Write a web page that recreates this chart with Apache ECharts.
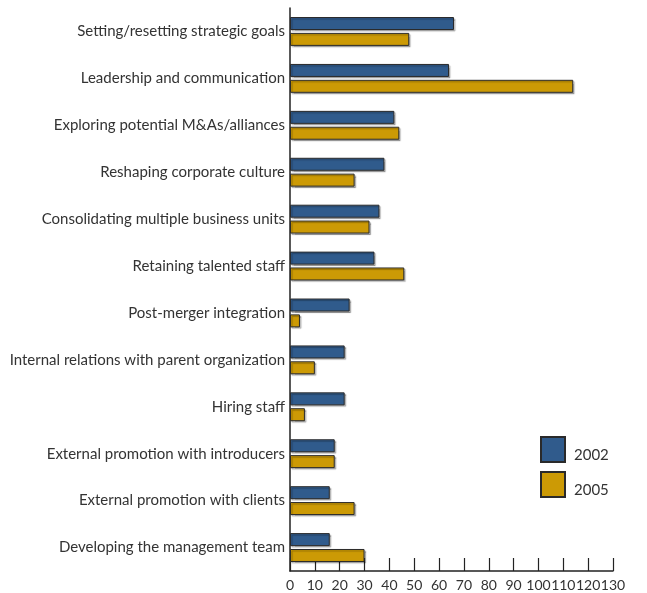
<!DOCTYPE html>
<html>
<head>
<meta charset="utf-8">
<script src="https://cdn.jsdelivr.net/npm/echarts@6/dist/echarts.min.js"></script>
<style>
  html, body { margin: 0; padding: 0; background: #fff; }
  #chart { width: 647px; height: 593px; }
</style>
</head>
<body>
<div id="chart"></div>
<script>
// Activities, listed top to bottom
const categories = [
  'Setting/resetting strategic goals',
  'Leadership and communication',
  'Exploring potential M&As/alliances',
  'Reshaping corporate culture',
  'Consolidating multiple business units',
  'Retaining talented staff',
  'Post-merger integration',
  'Internal relations with parent organization',
  'Hiring staff',
  'External promotion with introducers',
  'External promotion with clients',
  'Developing the management team'
];
const values2002 = [66, 64, 42, 38, 36, 34, 24, 22, 22, 18, 16, 16];
const values2005 = [48, 114, 44, 26, 32, 46, 4, 10, 6, 18, 26, 30];
const seriesNames = ['2002', '2005'];
const tickValues = [0, 10, 20, 30, 40, 50, 60, 70, 80, 90, 100, 110, 120, 130];

const FONT = 'Lato, "Open Sans", sans-serif';
const barStyle = (color) => ({
  color: color,
  borderColor: '#2a2a2a',
  borderWidth: 1,
  shadowColor: 'rgba(0,0,0,0.28)',
  shadowOffsetX: 1.5,
  shadowOffsetY: 1.5,
  shadowBlur: 1
});

const chart = echarts.init(document.getElementById('chart'), null, { renderer: 'canvas' });
chart.setOption({
  animation: false,
  grid: { left: 290, right: 34, top: 8, bottom: 22, containLabel: false },
  legend: {
    orient: 'vertical',
    left: 540,
    top: 436,
    padding: 0,
    itemWidth: 24,
    itemHeight: 25,
    itemGap: 8,
    data: seriesNames,
    icon: 'rect',
    formatter: (name) => '{t|' + name + '}',
    textStyle: {
      fontFamily: FONT, fontSize: 15, color: '#333',
      rich: { t: { fontFamily: FONT, fontSize: 15, color: '#333', padding: [12, 0, 0, 4] } }
    }
  },
  xAxis: {
    type: 'value',
    min: tickValues[0],
    max: tickValues[tickValues.length - 1],
    interval: 10,
    splitLine: { show: false },
    axisLine: { show: true, lineStyle: { color: '#222', width: 1.5 } },
    axisTick: { show: true, inside: true, length: 13, lineStyle: { color: '#222', width: 1.2 } },
    axisLabel: {
      fontFamily: FONT, fontSize: 14, color: '#333', margin: 7,
      showMinLabel: true, showMaxLabel: true, hideOverlap: false
    }
  },
  yAxis: {
    type: 'category',
    inverse: true,
    data: categories,
    axisLine: { show: true, lineStyle: { color: '#222', width: 1.5 } },
    axisTick: { show: false },
    axisLabel: { fontFamily: FONT, fontSize: 15, color: '#333', margin: 5 }
  },
  series: [
    {
      name: seriesNames[0],
      type: 'bar',
      data: values2002,
      barWidth: 13,
      barGap: '22%',
      itemStyle: barStyle('#305b8c')
    },
    {
      name: seriesNames[1],
      type: 'bar',
      data: values2005,
      barWidth: 13,
      itemStyle: barStyle('#cc9a05')
    }
  ]
});
</script>
</body>
</html>
